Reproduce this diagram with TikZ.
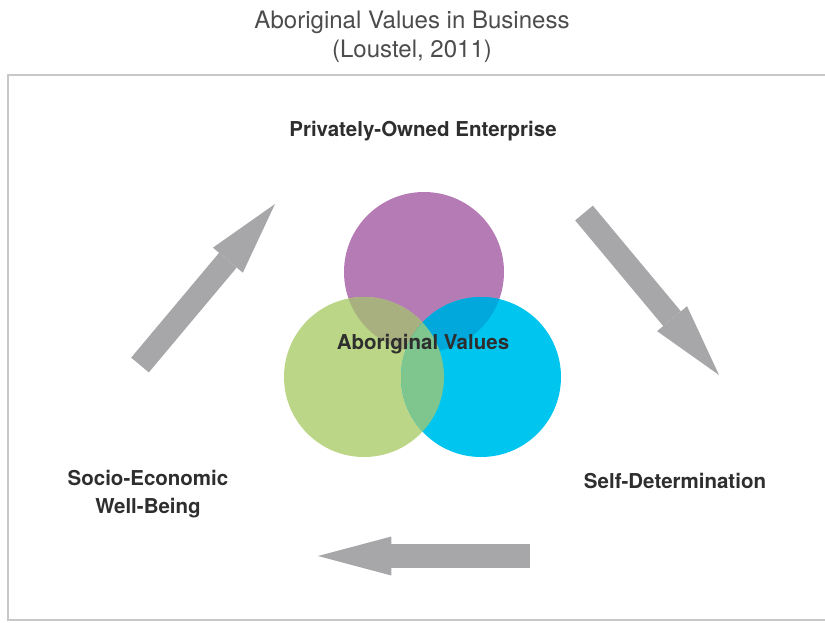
\documentclass[tikz,border=0pt]{standalone}
\usepackage{fontspec}
\setmainfont{TeX Gyre Heros}
\usetikzlibrary{arrows.meta,positioning}

\definecolor{valPurple}{HTML}{B57BB5}
\definecolor{valGreen}{HTML}{BBD686}
\definecolor{valBlue}{HTML}{00C5EF}
\definecolor{mixPG}{HTML}{A9B07F}
\definecolor{mixPB}{HTML}{00A8DC}
\definecolor{mixGB}{HTML}{7EC68E}
\definecolor{arrowGray}{HTML}{A7A7AA}
\definecolor{frameGray}{HTML}{C8C8C8}
\definecolor{labelInk}{HTML}{2E2E2E}

\tikzset{
  title/.style={font=\fontsize{20.5}{25}\selectfont, text=black!70, align=center},
  stage/.style={font=\fontsize{17.5}{23.5}\selectfont\bfseries, text=labelInk, align=center},
  flow/.style={arrowGray, line width=0.69cm,
    -{Triangle[length=2.2cm, width=1.17cm, line width=0pt]}}
}

\begin{document}
\begin{tikzpicture}[x=0.03cm,y=-0.03cm]
  \useasboundingbox (0,0) rectangle (825,622);

  % Title
  \node[title] (head) at (412,37) {Aboriginal Values in Business\\(Loustel, 2011)};

  % Frame (open to the right)
  \draw[frameGray, line width=1.2pt] (825,75) -- (8,75) -- (8,620) -- (825,620);

  % Three value circles
  \coordinate (P) at (424,272);
  \coordinate (G) at (364,377);
  \coordinate (B) at (481,377);
  \fill[valPurple] (P) circle[radius=80];
  \fill[valGreen] (G) circle[radius=80];
  \fill[valBlue] (B) circle[radius=80];

  % Overlaps
  \begin{scope}
    \clip (P) circle[radius=80];
    \fill[mixPG] (G) circle[radius=80];
    \fill[mixPB] (B) circle[radius=80];
  \end{scope}
  \begin{scope}
    \clip (G) circle[radius=80];
    \fill[mixGB] (B) circle[radius=80];
  \end{scope}

  \node[stage] (core) at (423,344) {Aboriginal Values};

  % Stages of the cycle
  \node[stage] (poe) at (423,131) {Privately-Owned Enterprise};
  \node[stage] (sd) at (675,481) {Self-Determination};
  \node[stage] (seb) at (148,494) {Socio-Economic\\Well-Being};

  % Block arrows between the stages
  \coordinate (a1s) at (140,365);
  \coordinate (a1e) at (275,204);
  \coordinate (a2s) at (584,213);
  \coordinate (a2e) at (719,375);
  \coordinate (a3s) at (530,556);
  \coordinate (a3e) at (318,556);
  \draw[flow] (a1s) -- (a1e);
  \draw[flow] (a2s) -- (a2e);
  \draw[flow, line width=0.72cm] (a3s) -- (a3e);
\end{tikzpicture}
\end{document}
